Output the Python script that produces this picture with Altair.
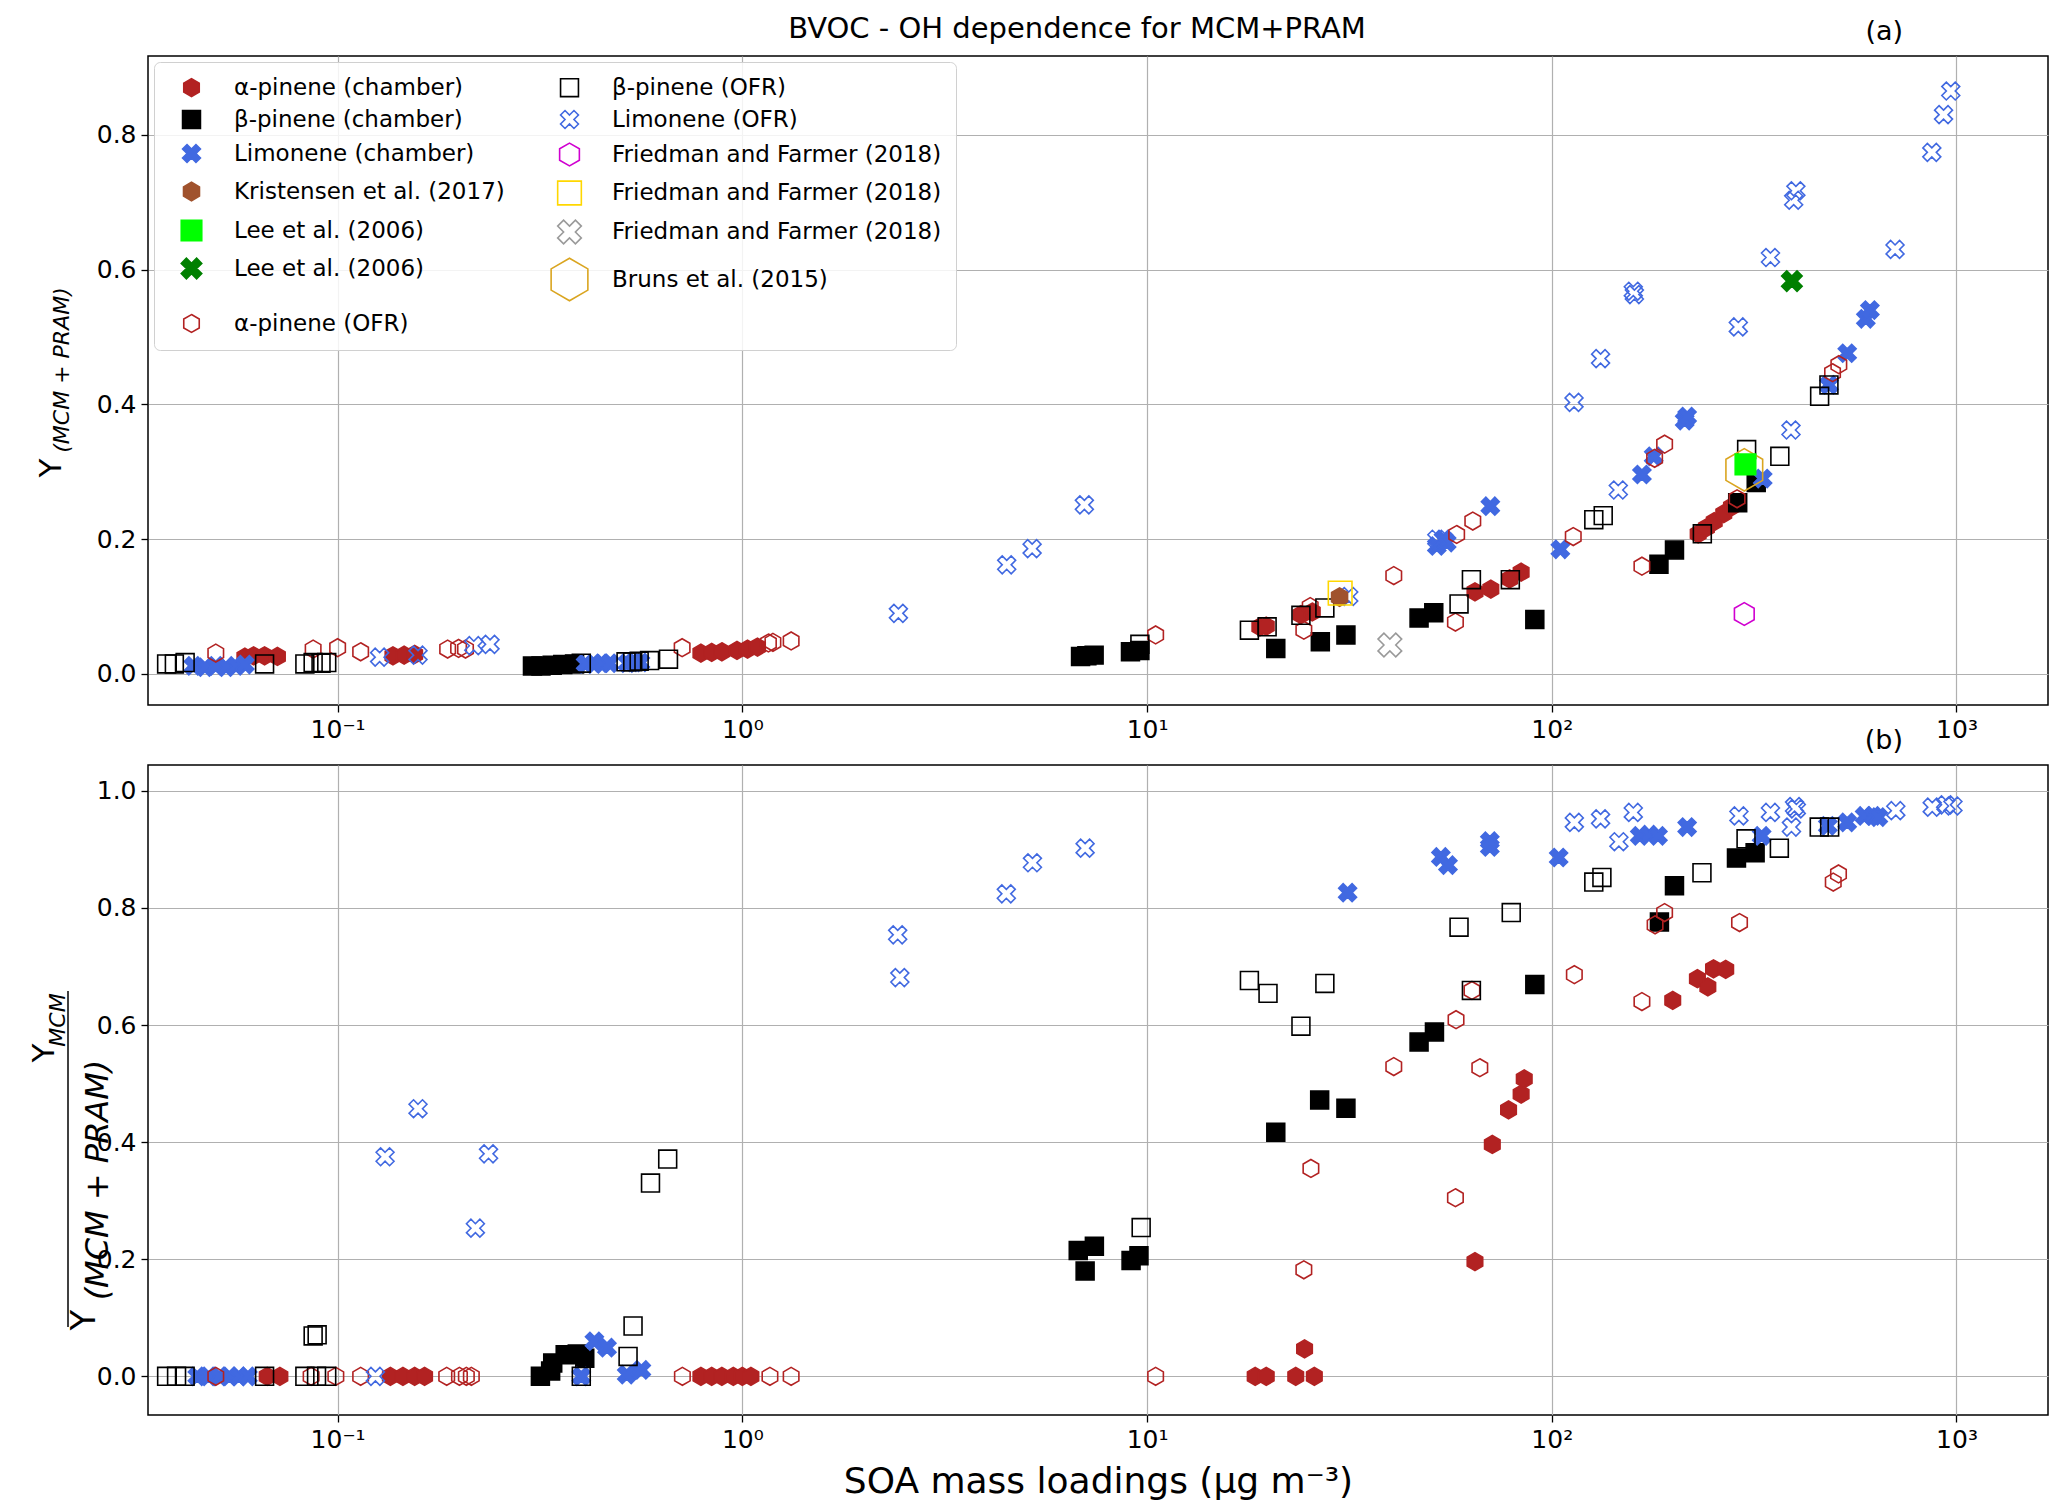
import altair as alt
import pandas as pd

FONT = "DejaVu Sans"
RED = "#B22222"
BLUE = "#4169E1"

HEX = "M0,-1L0.866,-0.5L0.866,0.5L0,1L-0.866,0.5L-0.866,-0.5Z"
XMARK = "M0,-0.5L0.5,-1L1,-0.5L0.5,0L1,0.5L0.5,1L0,0.5L-0.5,1L-1,0.5L-0.5,0L-1,-0.5L-0.5,-1Z"

# ---------------- panel (a): Y(MCM+PRAM) ----------------
a_apin_ch_x = [0.059, 0.062, 0.066, 0.071, 0.137, 0.146, 0.155, 0.79, 0.84, 0.89, 0.97, 1.03, 1.09,
               19.0, 19.7, 24.0, 25.6, 64.6, 70.7, 78.7, 84.0, 230, 241, 252, 266, 278]
a_apin_ch_y = [0.025, 0.027, 0.027, 0.026, 0.027, 0.028, 0.029, 0.031, 0.032, 0.033, 0.035, 0.037, 0.040,
               0.070, 0.071, 0.088, 0.092, 0.122, 0.126, 0.141, 0.151, 0.208, 0.217, 0.226, 0.238, 0.248]
a_bpin_ch_x = [0.303, 0.318, 0.339, 0.36, 0.385, 6.85, 7.1, 7.4, 9.1, 9.6, 20.8, 26.8, 31.0, 47.0, 51.1,
               90.8, 184, 201, 288, 320]
a_bpin_ch_y = [0.012, 0.012, 0.013, 0.014, 0.015, 0.026, 0.027, 0.028, 0.033, 0.035, 0.038, 0.048, 0.058,
               0.083, 0.091, 0.081, 0.163, 0.184, 0.254, 0.284]
a_lim_ch_x = [0.044, 0.047, 0.050, 0.053, 0.056, 0.059, 0.41, 0.43, 0.45, 0.47, 0.52, 0.54, 0.56, 52, 54,
              55, 70.5, 105, 167, 178.6, 213, 216, 332, 484, 537, 597, 611]
a_lim_ch_y = [0.012, 0.010, 0.012, 0.010, 0.012, 0.014, 0.015, 0.015, 0.016, 0.016, 0.016, 0.017, 0.017,
              0.190, 0.200, 0.195, 0.249, 0.185, 0.296, 0.323, 0.376, 0.382, 0.290, 0.429, 0.476, 0.527, 0.540]
a_lim_ofr_x = [0.127, 0.158, 0.217, 0.238, 2.43, 4.5, 5.2, 7.0, 31.5, 52, 113.5, 132, 146, 159, 160, 289,
               347, 390, 396, 401, 705, 869, 929, 968]
a_lim_ofr_y = [0.025, 0.028, 0.042, 0.044, 0.090, 0.162, 0.186, 0.251, 0.115, 0.200, 0.403, 0.468, 0.273,
               0.568, 0.563, 0.515, 0.618, 0.362, 0.703, 0.717, 0.630, 0.774, 0.830, 0.865]
a_apin_ofr_x = [0.050, 0.087, 0.100, 0.114, 0.187, 0.199, 0.207, 0.71, 1.16, 1.19, 1.32, 10.5, 24.4, 25.3,
                40.7, 57.8, 58.2, 63.8, 113, 167, 179.5, 190, 287, 494, 512]
a_apin_ofr_y = [0.031, 0.037, 0.039, 0.033, 0.037, 0.038, 0.037, 0.039, 0.046, 0.047, 0.049, 0.058, 0.065,
                0.100, 0.146, 0.077, 0.207, 0.227, 0.204, 0.160, 0.320, 0.341, 0.260, 0.447, 0.459]
a_bpin_ofr_x = [0.0378, 0.0395, 0.042, 0.066, 0.083, 0.087, 0.091, 0.094, 0.40, 0.516, 0.536, 0.556, 0.59,
                0.657, 9.6, 17.9, 19.8, 24.0, 27.5, 59, 63.3, 79, 127, 134, 235.5, 303, 366, 459, 484]
a_bpin_ofr_y = [0.015, 0.015, 0.017, 0.015, 0.015, 0.017, 0.016, 0.017, 0.016, 0.018, 0.018, 0.019, 0.020,
                0.022, 0.044, 0.065, 0.070, 0.087, 0.098, 0.104, 0.140, 0.140, 0.229, 0.235, 0.208, 0.333,
                0.323, 0.412, 0.429]
a_kristensen = ([29.9], [0.114])
a_lee_sq = ([301], [0.311])
a_lee_x = ([392], [0.583])
a_fri_hex = ([299], [0.089])
a_fri_sq = ([30], [0.120])
a_fri_x = ([39.8], [0.043])
a_bruns = ([299], [0.303])

# ---------------- panel (b): Y_MCM / Y(MCM+PRAM) ----------------
b_apin_ch_x = [0.067, 0.072, 0.135, 0.145, 0.155, 0.164, 0.79, 0.84, 0.89, 0.95, 1.0, 1.05, 18.5, 19.7,
               23.3, 25.9, 24.5, 64.6, 71.3, 78.2, 84.0, 85.5, 199, 229, 243, 251, 269]
b_apin_ch_y = [0, 0, 0, 0, 0, 0, 0, 0, 0, 0, 0, 0, 0, 0, 0, 0, 0.047, 0.196, 0.396, 0.455, 0.482, 0.508,
               0.642, 0.679, 0.665, 0.696, 0.695]
b_bpin_ch_x = [0.317, 0.336, 0.34, 0.365, 0.391, 0.408, 6.76, 7.03, 7.41, 9.13, 9.55, 20.8, 26.7, 31.0,
               47.0, 51.3, 90.8, 184.5, 201, 286, 318]
b_bpin_ch_y = [0.0, 0.009, 0.023, 0.037, 0.038, 0.031, 0.215, 0.180, 0.222, 0.198, 0.206, 0.417, 0.472,
               0.458, 0.571, 0.588, 0.669, 0.776, 0.838, 0.885, 0.894]
b_lim_ch_x = [0.045, 0.048, 0.051, 0.054, 0.057, 0.060, 0.40, 0.431, 0.463, 0.518, 0.563, 31.3, 53.2, 55.4,
              70.3, 70.3, 104, 165, 174, 183, 216, 330, 481, 537, 593, 622, 641]
b_lim_ch_y = [0, 0, 0, 0, 0, 0, 0, 0.060, 0.049, 0.003, 0.011, 0.826, 0.887, 0.873, 0.904, 0.914, 0.886,
              0.923, 0.925, 0.923, 0.938, 0.923, 0.940, 0.946, 0.957, 0.957, 0.955]
b_lim_ofr_x = [0.124, 0.131, 0.158, 0.219, 0.236, 2.42, 2.45, 4.49, 5.21, 7.03, 113.7, 132, 146.5, 159,
               290, 347, 391, 398, 402, 708, 871, 942, 980]
b_lim_ofr_y = [0, 0.375, 0.457, 0.253, 0.380, 0.754, 0.681, 0.824, 0.877, 0.902, 0.946, 0.952, 0.913,
               0.963, 0.957, 0.963, 0.938, 0.973, 0.969, 0.966, 0.972, 0.976, 0.974]
b_apin_ofr_x = [0.050, 0.086, 0.099, 0.114, 0.186, 0.200, 0.208, 0.214, 0.711, 1.17, 1.32, 10.5, 24.4,
                25.4, 40.7, 57.8, 58.0, 63.5, 66.4, 113.7, 167, 180, 190, 291, 496, 511]
b_apin_ofr_y = [0, 0, 0, 0, 0, 0, 0, 0, 0, 0, 0, 0, 0.182, 0.355, 0.529, 0.305, 0.609, 0.659, 0.527,
                0.686, 0.640, 0.771, 0.792, 0.775, 0.844, 0.858]
b_bpin_ofr_x = [0.0378, 0.040, 0.042, 0.066, 0.083, 0.0887, 0.094, 0.087, 0.089, 0.40, 0.522, 0.537,
                0.593, 0.654, 9.67, 17.9, 19.9, 24.0, 27.5, 59, 63.3, 79.4, 127, 133, 235, 302, 365, 458, 486]
b_bpin_ofr_y = [0, 0, 0, 0, 0, 0, 0, 0.069, 0.071, 0, 0.034, 0.086, 0.330, 0.371, 0.254, 0.676, 0.654,
                0.598, 0.671, 0.767, 0.659, 0.792, 0.844, 0.852, 0.860, 0.918, 0.902, 0.938, 0.938]

# series key, shape, fill, stroke, size (legend fills column by column)
SERIES = [
    ("α-pinene (chamber)", HEX, RED, RED, 320),
    ("β-pinene (chamber)", "square", "black", "black", 320),
    ("Limonene (chamber)", XMARK, BLUE, BLUE, 320),
    ("Kristensen et al. (2017)", HEX, "#A0522D", "#A0522D", 340),
    ("Lee et al. (2006)|1", "square", "#00FF00", "#00FF00", 420),
    ("Lee et al. (2006)|2", XMARK, "#008000", "#008000", 420),
    ("α-pinene (OFR)", HEX, "transparent", RED, 320),
    ("β-pinene (OFR)", "square", "transparent", "black", 320),
    ("Limonene (OFR)", XMARK, "transparent", BLUE, 320),
    ("Friedman and Farmer (2018)|1", HEX, "transparent", "#D000D0", 520),
    ("Friedman and Farmer (2018)|2", "square", "transparent", "#FFD700", 560),
    ("Friedman and Farmer (2018)|3", XMARK, "transparent", "#9A9A9A", 560),
    ("Bruns et al. (2015)", HEX, "transparent", "#DAA520", 1800),
]
KEYS = [s[0] for s in SERIES]


def frame(groups):
    rows = []
    for key, xs, ys in groups:
        rows += [{"series": key, "x": xv, "y": yv} for xv, yv in zip(xs, ys)]
    return pd.DataFrame(rows)


df_a = frame([
    ("α-pinene (chamber)", a_apin_ch_x, a_apin_ch_y),
    ("β-pinene (chamber)", a_bpin_ch_x, a_bpin_ch_y),
    ("Limonene (chamber)", a_lim_ch_x, a_lim_ch_y),
    ("α-pinene (OFR)", a_apin_ofr_x, a_apin_ofr_y),
    ("β-pinene (OFR)", a_bpin_ofr_x, a_bpin_ofr_y),
    ("Limonene (OFR)", a_lim_ofr_x, a_lim_ofr_y),
    ("Kristensen et al. (2017)", *a_kristensen),
    ("Bruns et al. (2015)", *a_bruns),
    ("Lee et al. (2006)|1", *a_lee_sq),
    ("Lee et al. (2006)|2", *a_lee_x),
    ("Friedman and Farmer (2018)|1", *a_fri_hex),
    ("Friedman and Farmer (2018)|2", *a_fri_sq),
    ("Friedman and Farmer (2018)|3", *a_fri_x),
])
df_b = frame([
    ("α-pinene (chamber)", b_apin_ch_x, b_apin_ch_y),
    ("β-pinene (chamber)", b_bpin_ch_x, b_bpin_ch_y),
    ("Limonene (chamber)", b_lim_ch_x, b_lim_ch_y),
    ("α-pinene (OFR)", b_apin_ofr_x, b_apin_ofr_y),
    ("β-pinene (OFR)", b_bpin_ofr_x, b_bpin_ofr_y),
    ("Limonene (OFR)", b_lim_ofr_x, b_lim_ofr_y),
])

W = 1900
H_A = 649
H_B = 650
X_DOMAIN = [0.034, 1683]
X_TICKS = [0.1, 1, 10, 100, 1000]
X_LABELS = "['10⁻¹','10⁰','10¹','10²','10³'][round(log(datum.value)/LN10)+1]"


def text_layer(txt, x, y, size, angle=270, italic=False, align="center"):
    return alt.Chart(pd.DataFrame({"t": [txt]})).mark_text(
        font=FONT, fontSize=size, angle=angle, align=align, baseline="middle", color="black",
        fontStyle="italic" if italic else "normal",
    ).encode(x=alt.value(x), y=alt.value(y), text="t:N")


def scatter(df, y_domain, y_ticks, height, legend, x_title):
    def ch(cls, idx, **kw):
        return cls("series:N", scale=alt.Scale(domain=KEYS, range=[s[idx] for s in SERIES], **kw),
                   legend=legend)

    if x_title:
        x_axis = alt.Axis(values=X_TICKS, labelExpr=X_LABELS, grid=True, title=x_title)
    else:
        x_axis = alt.Axis(values=X_TICKS, labelExpr=X_LABELS, grid=True, title=None)
    return alt.Chart(df).mark_point(filled=True, opacity=1, strokeWidth=1.6).encode(
        x=alt.X("x:Q", scale=alt.Scale(type="log", domain=X_DOMAIN, nice=False), axis=x_axis),
        y=alt.Y("y:Q", scale=alt.Scale(domain=y_domain, nice=False, zero=False),
                axis=alt.Axis(values=y_ticks, format=".1f", grid=True, title=None)),
        shape=ch(alt.Shape, 1),
        fill=ch(alt.Fill, 2),
        stroke=ch(alt.Stroke, 3),
        size=ch(alt.Size, 4, type="ordinal"),
    ).properties(width=W, height=height)


legend = alt.Legend(
    title=None, orient="top-left", offset=6, columns=2, columnPadding=41, rowPadding=7,
    labelFont=FONT, labelFontSize=23, labelLimit=700, labelOffset=20, labelColor="black",
    labelExpr="split(datum.label, '|')[0]", symbolStrokeWidth=1.6, symbolOffset=1,
    fillColor="rgba(255,255,255,0.85)", strokeColor="#d0d0d0", cornerRadius=6, padding=14,
)

top = alt.layer(
    scatter(df_a, [-0.046, 0.917], [0, 0.2, 0.4, 0.6, 0.8], H_A, legend, None),
    text_layer("BVOC - OH dependence for MCM+PRAM", 929, -27, 29, angle=0),
    text_layer("(a)", W - 145, -24, 27, angle=0, align="right"),
    text_layer("(b)", W - 145, H_A + 36, 27, angle=0, align="right"),
    text_layer("Y", -96, 412, 31),
    text_layer("(MCM + PRAM)", -86, 314, 22, italic=True),
)

bottom = alt.layer(
    scatter(df_b, [-0.066, 1.044], [0, 0.2, 0.4, 0.6, 0.8, 1.0], H_B, None, "SOA mass loadings (μg m⁻³)"),
    text_layer("Y", -103, 288, 31),
    text_layer("MCM", -90, 255, 22, italic=True),
    alt.Chart(pd.DataFrame({"t": [0]})).mark_rule(color="black", strokeWidth=1.5).encode(
        x=alt.value(-80), y=alt.value(226), y2=alt.value(562)),
    text_layer("Y", -63, 555, 34),
    text_layer("(MCM + PRAM)", -50, 415, 32, italic=True),
)

chart = alt.vconcat(top, bottom, spacing=9).resolve_scale(
    shape="independent", fill="independent", stroke="independent", size="independent"
).configure(
    padding={"left": 20, "top": 6, "right": 0, "bottom": 0}
).configure_axis(
    labelFont=FONT, labelFontSize=25, labelColor="black", tickColor="black", tickSize=7, tickWidth=1.3,
    labelPadding=5, domain=False, gridColor="#b0b0b0", gridWidth=1.2, titleFont=FONT, titleFontSize=36,
    titleFontWeight="normal", titleColor="black", titlePadding=12,
).configure_view(stroke="black", strokeWidth=1.5)

chart.save("out.html", embed_options={"renderer": "svg", "actions": False})
